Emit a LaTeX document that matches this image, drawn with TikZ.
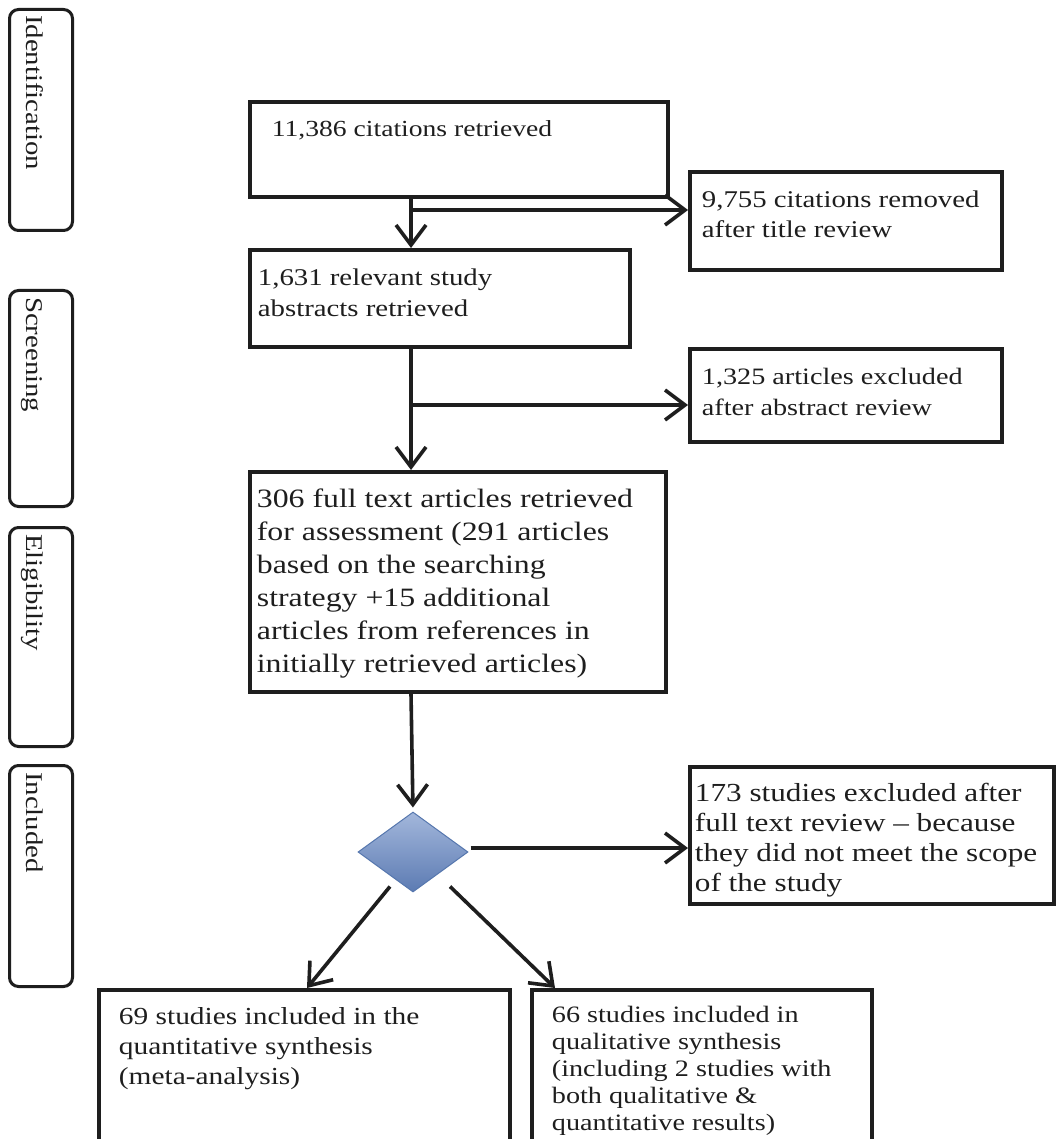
\documentclass[tikz,border=0pt]{standalone}
\usepackage{fontspec}
\setmainfont{Liberation Serif}[FakeStretch=1.2]
\usetikzlibrary{arrows.meta,shapes.geometric,calc}
\definecolor{dtop}{HTML}{A3B7DB}
\definecolor{dbot}{HTML}{5C7BB3}
\definecolor{dedge}{HTML}{5677AE}
\definecolor{ink}{HTML}{1E1E1E}
% \bt{font size}{line skip}{width}{height}{text}
\newcommand\bt[5]{\parbox[t][#4][t]{#3}{\fontsize{#1}{#2}\selectfont\raggedright #5}}
\begin{document}
\begin{tikzpicture}[x=1pt,y=-1pt,
  box/.style={draw=ink, line width=3.8pt, anchor=north west, inner xsep=19pt, inner ysep=19pt, text=ink},
  sidebox/.style={draw=ink, line width=3pt, rounded corners=9pt, anchor=north west, minimum width=63pt, inner sep=0pt},
  sidetext/.style={rotate=-90, anchor=base west, inner sep=0pt, font=\fontsize{24}{28}\selectfont, text=ink},
  conn/.style={draw=ink, line width=3.6pt},
  arr/.style={conn, -{Straight Barb[length=20pt, width=30pt, line width=3.6pt]}}
]
\useasboundingbox (0,0) rectangle (1056,1139);
\fill[white] (0,0) rectangle (1056,1139);

% side labels
\node[sidebox, minimum height=221pt] (s1) at (8,8) {};
\node[sidebox, minimum height=216pt] (s2) at (8,289) {};
\node[sidebox, minimum height=219pt] (s3) at (8,526) {};
\node[sidebox, minimum height=221pt] (s4) at (8,764) {};
\node[sidetext] (t1) at ($(s1.north west)+(19,7)$) {Identification};
\node[sidetext] (t2) at ($(s2.north west)+(19,8)$) {Screening};
\node[sidetext] (t3) at ($(s3.north west)+(19,8)$) {Eligibility};
\node[sidetext] (t4) at ($(s4.north west)+(19,8)$) {Included};

% main boxes
\node[box, inner xsep=22pt] (b1) at (248,100) {\bt{23pt}{30pt}{374pt}{57pt}{11,386 citations retrieved}};
\node[box, inner xsep=8pt] (b2) at (248,248) {\bt{24pt}{31pt}{364pt}{59pt}{1,631 relevant study\\abstracts retrieved}};
\node[box, inner xsep=7pt, inner ysep=17pt] (b3) at (248,470) {\bt{26.5pt}{33pt}{402pt}{186pt}{306 full text articles retrieved\\for assessment (291 articles\\based on the searching\\strategy +15 additional\\articles from references in\\initially retrieved articles)}};

% right boxes
\node[box, inner xsep=12pt] (r1) at (688,170) {\bt{24pt}{30pt}{288pt}{60pt}{9,755 citations removed\\after title review}};
\node[box, inner xsep=12pt] (r2) at (688,347) {\bt{23.5pt}{31pt}{288pt}{55pt}{1,325 articles excluded\\after abstract review}};
\node[box, inner xsep=5pt, inner ysep=16pt] (r3) at (688,765) {\bt{26pt}{30pt}{354pt}{105pt}{173 studies excluded after\\full text review -- because\\they did not meet the scope\\of the study}};

% bottom boxes
\node[box, inner xsep=20pt, inner ysep=18pt] (bl) at (97,988) {\bt{24.5pt}{30pt}{371pt}{220pt}{69 studies included in the\\quantitative synthesis\\(meta-analysis)}};
\node[box, inner xsep=20pt, inner ysep=16pt] (br) at (530,988) {\bt{23.5pt}{27pt}{300pt}{220pt}{66 studies included in\\qualitative synthesis\\(including 2 studies with\\both qualitative \&\\quantitative results)}};

% decision diamond
\node[diamond, minimum width=110pt, minimum height=80pt, inner sep=0pt, draw=dedge, line width=1pt, top color=dtop, bottom color=dbot] (dia) at (413,852) {};

% connectors
\coordinate (j1) at (411,210);
\coordinate (j2) at (411,405);
\draw[arr] (j1 |- b1.south) -- (j1 |- b2.north);
\draw[arr] (j1) -- (j1 -| r1.west);
\draw[arr] (j2 |- b2.south) -- (j2 |- b3.north);
\draw[arr] (j2) -- (j2 -| r2.west);
\draw[arr, shorten >=4pt] (j2 |- b3.south) -- (dia.north);
\coordinate (d1) at ($(dia.east)+(2,-4)$);
\draw[arr] (d1) -- (d1 -| r3.west);
\draw[arr] ($(dia.south)+(-23,-6)$) -- ($(bl.north west)+(210,0)$);
\draw[arr] ($(dia.south)+(37,-6)$) -- ($(br.north west)+(25,0)$);
\end{tikzpicture}
\end{document}
